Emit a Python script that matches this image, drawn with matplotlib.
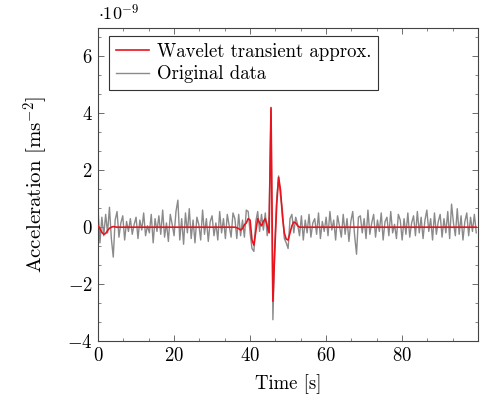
import numpy as np
import matplotlib
matplotlib.use('Agg')
import matplotlib.pyplot as plt
from matplotlib.ticker import MultipleLocator

plt.rcParams['font.family'] = 'serif'
plt.rcParams['font.serif'] = ['cmr10']
plt.rcParams['mathtext.fontset'] = 'cm'
plt.rcParams['axes.formatter.use_mathtext'] = True
plt.rcParams['font.size'] = 13.5

# sample spacing 0.5 s, values in units of 1e-9 m/s^2
dt = 0.5

original = [
    0.62, -0.55, 0.35, -0.30, 0.45, -0.20, 0.70, -0.40, -1.05, 0.25, 0.55, -0.35, 0.15, 0.40, -0.45, 0.20, -0.15, 0.30, -0.25, 0.10,
    0.35, -0.40, 0.25, -0.10, 0.50, -0.30, 0.05, -0.20, 0.45, -0.55, 0.30, -0.15, 0.40, -0.25, 0.60, -0.35, 0.15, -0.50, 0.45, 0.10,
    -0.30, 0.55, 0.95, -0.45, 0.30, -0.60, 0.50, -0.20, 0.65, -0.40, 0.25, -0.55, 0.35, 0.10, -0.45, 0.60, -0.25, 0.30, -0.50, 0.20,
    0.40, -0.30, 0.15, -0.45, 0.55, -0.20, 0.30, -0.40, 0.45, 0.05, -0.35, 0.50, 0.30, -0.40, 0.45, -0.30, 0.25, -0.35, 0.60, 0.55,
    -0.20, -0.75, -0.85, 0.20, 0.55, -0.15, 0.45, -0.10, 0.50, -0.30, 0.40, 4.15, -3.25, -0.60, 1.00, 1.80, 1.10, 0.60, -0.40, -0.55,
    -0.75, 0.30, 0.45, -0.20, 0.35, 0.10, -0.30, 0.40, -0.45, 0.25, -0.20, 0.45, -0.35, 0.15, 0.30, -0.25, 0.50, -0.40, 0.20, -0.15,
    0.35, -0.30, 0.55, -0.10, 0.25, -0.45, 0.40, 0.05, -0.35, 0.45, -0.25, 0.30, -0.50, 0.20, 0.55, -0.30, -0.95, 0.35, 0.40, -0.20,
    0.30, -0.40, 0.60, -0.25, 0.15, 0.45, -0.35, 0.25, -0.15, 0.50, -0.45, 0.20, 0.35, -0.30, 0.55, -0.20, 0.10, -0.40, 0.45, 0.25,
    -0.45, 0.30, -0.25, 0.50, -0.35, 0.15, 0.40, -0.30, 0.55, -0.20, 0.35, -0.40, 0.25, 0.60, -0.15, 0.30, -0.45, 0.50, -0.25, 0.20,
    0.45, -0.35, 0.30, -0.20, 0.55, -0.40, 0.81, 0.15, -0.30, 0.65, -0.25, 0.40, -0.45, 0.20, 0.50, -0.30, 0.35, -0.15, 0.45, -0.20,
]

wavelet = [
    0.05, -0.05, -0.18, -0.25, -0.22, -0.12, -0.04, 0.00, 0.02, 0.01, 0.00, 0.00, 0.00, 0.00, 0.00, 0.00, 0.00, 0.00, 0.00, 0.00,
    0.00, 0.00, 0.00, 0.00, 0.00, 0.00, 0.00, 0.00, 0.00, 0.00, 0.00, 0.00, 0.00, 0.00, 0.00, 0.00, 0.00, 0.00, 0.00, 0.00,
    0.00, 0.00, 0.00, 0.00, 0.00, 0.00, 0.00, 0.00, 0.00, 0.00, 0.00, 0.00, 0.00, 0.00, 0.00, 0.00, 0.00, 0.00, 0.00, 0.00,
    0.00, 0.00, 0.00, 0.00, 0.00, 0.00, 0.00, 0.00, 0.00, 0.00, 0.00, 0.00, 0.00, -0.02, -0.05, -0.10, -0.05, 0.08, 0.15, 0.30,
    0.25, -0.45, -0.63, -0.15, 0.30, 0.15, 0.05, 0.20, 0.30, 0.05, -0.20, 4.20, -2.60, -0.80, 0.80, 1.75, 1.30, 0.40, -0.20, -0.42,
    -0.45, -0.20, 0.05, 0.18, 0.15, 0.05, 0.00, 0.00, 0.00, 0.00, 0.00, 0.00, 0.00, 0.00, 0.00, 0.00, 0.00, 0.00, 0.00, 0.00,
    0.00, 0.00, 0.00, 0.00, 0.00, 0.00, 0.00, 0.00, 0.00, 0.00, 0.00, 0.00, 0.00, 0.00, 0.00, 0.00, 0.00, 0.00, 0.00, 0.00,
    0.00, 0.00, 0.00, 0.00, 0.00, 0.00, 0.00, 0.00, 0.00, 0.00, 0.00, 0.00, 0.00, 0.00, 0.00, 0.00, 0.00, 0.00, 0.00, 0.00,
    0.00, 0.00, 0.00, 0.00, 0.00, 0.00, 0.00, 0.00, 0.00, 0.00, 0.00, 0.00, 0.00, 0.00, 0.00, 0.00, 0.00, 0.00, 0.00, 0.00,
    0.00, 0.00, 0.00, 0.00, 0.00, 0.00, 0.00, 0.00, 0.00, 0.00, 0.00, 0.00, 0.00, 0.00, 0.00, 0.00, 0.00, 0.00, 0.00, 0.00,
]

t = np.arange(len(original)) * dt

fig = plt.figure(figsize=(4.83, 3.98), dpi=100)
ax = fig.add_axes([0.203, 0.143, 0.787, 0.787])

h_gray, = ax.plot(t, original, color='#8a8a8a', lw=1.0, label='Original data', zorder=2)
h_red, = ax.plot(t, wavelet, color='#e8131c', lw=1.2, label='Wavelet transient approx.', zorder=3)

ax.set_xlim(0, 100)
ax.set_ylim(-4, 7)
ax.set_xticks([0, 20, 40, 60, 80])
ax.set_yticks([-4, -2, 0, 2, 4, 6])
ax.xaxis.set_minor_locator(MultipleLocator(20 / 3))
ax.yaxis.set_minor_locator(MultipleLocator(2 / 3))
ax.tick_params(which='both', direction='in', top=True, right=True, color='#555555')
ax.tick_params(which='major', length=4, width=0.6, pad=4)
ax.tick_params(which='minor', length=2.5, width=0.5)
for s in ax.spines.values():
    s.set_color('#444444')
    s.set_linewidth(0.8)

ax.set_xlabel('Time [s]', labelpad=7)
ax.set_ylabel(r'Acceleration [ms$^{-2}$]', fontsize=15, labelpad=12)
ax.text(0.0, 1.015, r'$\cdot 10^{-9}$', transform=ax.transAxes, ha='left', va='bottom', fontsize=13)

leg = ax.legend(handles=[h_red, h_gray], loc='upper left', bbox_to_anchor=(0.029, 0.974),
                borderaxespad=0, fancybox=False, framealpha=1, edgecolor='#333333', borderpad=0.37,
                handlelength=1.76, handletextpad=0.4, labelspacing=0.23)
leg.get_frame().set_linewidth(0.8)

plt.savefig('out.png', dpi=100)
